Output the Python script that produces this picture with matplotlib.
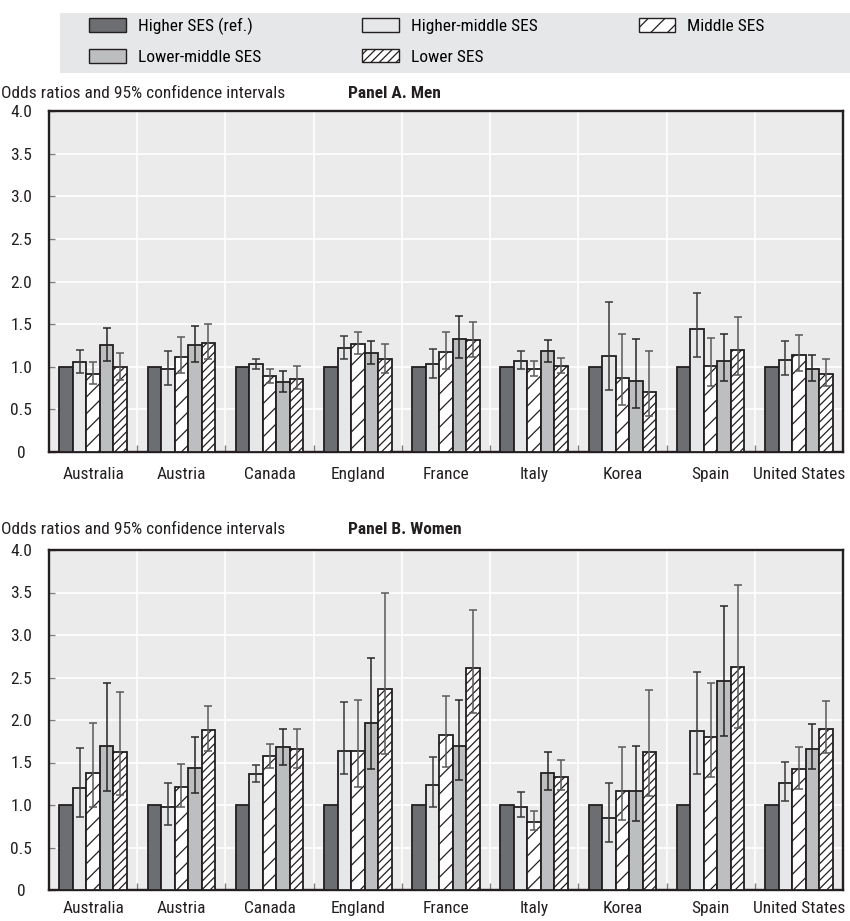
import matplotlib
matplotlib.use("Agg")
import matplotlib.pyplot as plt
from matplotlib import font_manager
from matplotlib.patches import Rectangle, Patch
import numpy as np

# ---- data -------------------------------------------------------------
countries = ["Australia", "Austria", "Canada", "England", "France",
             "Italy", "Korea", "Spain", "United States"]
series = ["Higher SES (ref.)", "Higher-middle SES", "Middle SES",
          "Lower-middle SES", "Lower SES"]

# odds ratios, one row per SES group (reference group = 1)
men_or = [
    [1, 1, 1, 1, 1, 1, 1, 1, 1],
    [1.06, 0.97, 1.03, 1.22, 1.03, 1.07, 1.13, 1.44, 1.08],
    [0.92, 1.12, 0.89, 1.27, 1.17, 0.97, 0.87, 1.01, 1.14],
    [1.25, 1.25, 0.82, 1.16, 1.32, 1.18, 0.83, 1.07, 0.97],
    [1.00, 1.28, 0.86, 1.09, 1.31, 1.01, 0.70, 1.20, 0.91],
]
men_lo = [
    [None] * 9,
    [0.93, 0.79, 0.97, 1.09, 0.87, 0.97, 0.73, 1.11, 0.90],
    [0.80, 0.93, 0.81, 1.15, 0.97, 0.89, 0.55, 0.77, 0.95],
    [1.07, 1.05, 0.70, 1.03, 1.10, 1.05, 0.52, 0.83, 0.83],
    [0.84, 1.09, 0.74, 0.93, 1.12, 0.93, 0.42, 0.90, 0.77],
]
men_hi = [
    [None] * 9,
    [1.20, 1.18, 1.09, 1.36, 1.21, 1.18, 1.76, 1.87, 1.30],
    [1.05, 1.35, 0.97, 1.41, 1.41, 1.07, 1.38, 1.34, 1.37],
    [1.46, 1.48, 0.95, 1.30, 1.59, 1.31, 1.32, 1.39, 1.14],
    [1.16, 1.50, 1.01, 1.27, 1.53, 1.10, 1.19, 1.58, 1.09],
]

women_or = [
    [1, 1, 1, 1, 1, 1, 1, 1, 1],
    [1.20, 0.98, 1.36, 1.63, 1.24, 0.98, 0.85, 1.87, 1.26],
    [1.38, 1.21, 1.58, 1.64, 1.82, 0.80, 1.17, 1.80, 1.42],
    [1.69, 1.43, 1.68, 1.97, 1.70, 1.38, 1.17, 2.46, 1.66],
    [1.62, 1.88, 1.66, 2.36, 2.61, 1.33, 1.62, 2.62, 1.89],
]
women_lo = [
    [None] * 9,
    [0.86, 0.76, 1.27, 1.37, 0.98, 0.86, 0.57, 1.36, 1.05],
    [0.98, 0.98, 1.44, 1.21, 1.45, 0.71, 0.82, 1.33, 1.19],
    [1.17, 1.14, 1.47, 1.42, 1.30, 1.18, 0.81, 1.81, 1.42],
    [1.12, 1.64, 1.44, 1.60, 2.08, 1.18, 1.11, 1.91, 1.61],
]
women_hi = [
    [None] * 9,
    [1.67, 1.26, 1.47, 2.21, 1.57, 1.15, 1.26, 2.57, 1.51],
    [1.96, 1.48, 1.72, 2.23, 2.28, 0.93, 1.68, 2.43, 1.68],
    [2.44, 1.80, 1.90, 2.73, 2.24, 1.62, 1.69, 3.34, 1.95],
    [2.33, 2.17, 1.89, 3.49, 3.30, 1.53, 2.35, 3.59, 2.22],
]

y_ticks = [0, 0.5, 1.0, 1.5, 2.0, 2.5, 3.0, 3.5, 4.0]
y_tick_labels = ["0", "0.5", "1.0", "1.5", "2.0", "2.5", "3.0", "3.5", "4.0"]

# ---- fonts ------------------------------------------------------------
available = {f.name for f in font_manager.fontManager.ttflist}
family = "DejaVu Sans"
for cand in ["Liberation Sans Narrow", "Roboto Condensed", "DejaVu Sans Condensed",
             "Open Sans Condensed", "Roboto", "Liberation Sans"]:
    if cand in available:
        family = cand
        break
plt.rcParams["font.family"] = [family, "DejaVu Sans"]
plt.rcParams["hatch.linewidth"] = 0.9

FS = 12.5

# ---- styles -----------------------------------------------------------
faces = ["#6d6e71", "#e6e7e8", "white", "#bcbec0", "white"]
hatches = [None, None, "//", None, "////"]
err_colors = [None, "#3a3a3a", "#5a5a5a", "#262626", "#5a5a5a"]
bg = "#ebebeb"
spine_col = "#231f20"

W, H = 850, 921
fig = plt.figure(figsize=(W / 100, H / 100), dpi=100)

def fx(px):
    return px / W

def fy(py):
    return 1 - py / H

# legend band
fig.patches.append(Rectangle((fx(60), fy(73)), fx(790), 60 / H,
                             transform=fig.transFigure, facecolor="#e6e7e8",
                             edgecolor="none", zorder=0))
handles = [Patch(facecolor=faces[i], edgecolor="#231f20", hatch=hatches[i],
                 linewidth=1.0, label=series[i]) for i in range(5)]
# row-major order in three columns
order = [0, 3, 1, 4, 2]
fig.legend([handles[i] for i in order], [series[i] for i in order],
           ncol=3, loc="upper left", mode="expand",
           bbox_to_anchor=(fx(86), fy(72), fx(682), 58 / H),
           frameon=False, fontsize=FS, handlelength=2.1, handleheight=0.85,
           handletextpad=0.7, labelspacing=0.85, borderaxespad=0.0,
           borderpad=0.2)


def draw_panel(ax, ors, los, his, label_pad):
    n = len(countries)
    x = np.arange(n)
    width = 0.153
    ax.set_facecolor(bg)
    for k in range(5):
        pos = x + (k - 2) * width
        ax.bar(pos, ors[k], width=width, color=faces[k], edgecolor=spine_col,
               linewidth=1.3, hatch=hatches[k], zorder=3)
        if k > 0:
            vals = np.array(ors[k], dtype=float)
            lo = np.array(los[k], dtype=float)
            hi = np.array(his[k], dtype=float)
            ax.errorbar(pos, vals, yerr=[vals - lo, hi - vals], fmt="none",
                        ecolor=err_colors[k], elinewidth=1.1, capsize=3.2,
                        capthick=1.1, zorder=4)
    ax.set_xlim(-0.5, n - 0.5)
    ax.set_ylim(0, 4.0)
    ax.set_yticks(y_ticks)
    ax.set_yticklabels(y_tick_labels)
    ax.set_xticks(x)
    ax.set_xticklabels(countries)
    ax.set_xticks(np.arange(0.5, n - 0.5, 1.0), minor=True)
    ax.tick_params(axis="x", which="major", length=0, pad=label_pad, labelsize=FS,
                   colors="#231f20")
    ax.tick_params(axis="x", which="minor", direction="in", length=5,
                   width=1.0, color="#808080")
    ax.tick_params(axis="y", which="major", direction="in", length=4,
                   width=1.0, color="#808080", pad=20, labelsize=FS,
                   labelcolor="#231f20")
    for lab in ax.get_yticklabels():
        lab.set_horizontalalignment("center")
    ax.grid(True, which="minor", axis="x", color="white", linewidth=1.2, zorder=0)
    ax.grid(True, which="major", axis="y", color="white", linewidth=1.2, zorder=0)
    ax.set_axisbelow(True)
    for s in ax.spines.values():
        s.set_color(spine_col)
        s.set_linewidth(1.7)


ax1 = fig.add_axes([fx(49), fy(452), fx(794), 341 / H])
draw_panel(ax1, men_or, men_lo, men_hi, 11)
ax2 = fig.add_axes([fx(49), fy(890), fx(794), 340 / H])
draw_panel(ax2, women_or, women_lo, women_hi, 8)

sub = "Odds ratios and 95% confidence intervals"
fig.text(fx(1), fy(93), sub, fontsize=FS, va="center", ha="left", color="#231f20")
fig.text(fx(348), fy(93), "Panel A. Men", fontsize=FS, va="center", ha="left",
         fontweight="bold", color="#231f20")
fig.text(fx(1), fy(529), sub, fontsize=FS, va="center", ha="left", color="#231f20")
fig.text(fx(348), fy(529), "Panel B. Women", fontsize=FS, va="center", ha="left",
         fontweight="bold", color="#231f20")

fig.savefig("out.png", dpi=100)
